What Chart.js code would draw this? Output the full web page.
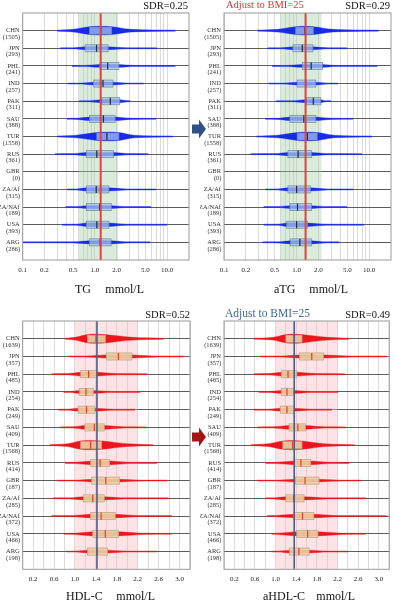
<!DOCTYPE html>
<html lang="en">
<head>
    <meta charset="utf-8" />
    <title>TG and HDL-C by country</title>
    <script src="https://cdn.jsdelivr.net/npm/chart.js"></script>
    <style>
        body { margin: 0; background: #fff; overflow: hidden; }
        .wrap { position: relative; width: 395px; height: 607px; }
        .panel { position: absolute; }
        .arrow { position: absolute; }
    </style>
</head>
<body>
<div class="wrap">
    <div class="panel" style="left:0;top:0;width:198px;height:300px"><canvas id="tgChart"></canvas></div>
    <div class="panel" style="left:200px;top:0;width:195px;height:300px"><canvas id="atgChart"></canvas></div>
    <div class="panel" style="left:0;top:300px;width:198px;height:307px"><canvas id="hdlChart"></canvas></div>
    <div class="panel" style="left:200px;top:300px;width:195px;height:307px"><canvas id="ahdlChart"></canvas></div>
    <svg class="arrow" style="left:190px;top:118px" width="18" height="22" viewBox="0 0 18 22">
        <path d="M2 6.5 H9 V1.5 L16 11 L9 20.5 V15.5 H2 Z" fill="#2e5287" />
    </svg>
    <svg class="arrow" style="left:190px;top:426px" width="18" height="22" viewBox="0 0 18 22">
        <path d="M2 6.5 H9 V1.5 L16 11 L9 20.5 V15.5 H2 Z" fill="#a31616" />
    </svg>
</div>
<script>
    // rows, top to bottom
    const countries = ['CHN', 'JPN', 'PHL', 'IND', 'PAK', 'SAU', 'TUR', 'RUS', 'GBR', 'ZA/Af', 'ZA/NAf', 'USA', 'ARG'];
    const tgCounts = [1505, 293, 241, 257, 311, 388, 1558, 361, 0, 315, 189, 393, 286];
    const hdlCounts = [1639, 357, 485, 254, 249, 409, 1568, 414, 187, 285, 372, 466, 198];

    // x axis grid lines and labelled ticks
    const logGrid = [0.1, 0.2, 0.3, 0.4, 0.5, 0.6, 0.7, 0.8, 0.9, 1, 2, 3, 4, 5, 6, 7, 8, 9, 10];
    const logTickLabels = [0.1, 0.2, 0.5, 1, 2, 5, 10];
    const hdlGrid = [0, 0.2, 0.4, 0.6, 0.8, 1.0, 1.2, 1.4, 1.6, 1.8, 2.0, 2.2, 2.4, 2.6, 2.8, 3.0, 3.2];
    const hdlTickLabels = [0.2, 0.6, 1.0, 1.4, 1.8, 2.2, 2.6, 3.0];

    // TG (mmol/L): tail min, dense start, Q1, median, Q3, dense end, tail max, swarm thickness (rows)
    const tgMin = [0.30, 0.33, 0.48, 0.42, 0.60, 0.41, 0.30, 0.28, null, 0.41, 0.39, 0.35, 0.10];
    const tgLo = [0.50, 0.50, 0.70, 0.60, 0.80, 0.55, 0.55, 0.50, null, 0.55, 0.55, 0.55, 0.50];
    const tgQ1 = [0.84, 0.73, 1.17, 0.96, 1.25, 0.84, 1.06, 0.76, null, 0.76, 0.76, 0.76, 0.84];
    const tgMed = [1.20, 1.05, 1.50, 1.29, 1.63, 1.31, 1.46, 1.06, null, 1.04, 1.16, 1.06, 1.18];
    const tgQ3 = [1.70, 1.52, 2.14, 1.77, 2.20, 1.90, 2.14, 1.80, null, 1.56, 1.68, 1.56, 1.67];
    const tgHi = [3.2, 2.8, 3.5, 3.0, 2.9, 3.2, 3.5, 3.0, null, 2.8, 2.8, 2.8, 2.8];
    const tgMax = [13, 7.2, 13, 4.7, 3.1, 7, 12, 5.5, null, 7, 6, 10, 5.8];
    const tgSize = [0.25, 0.09, 0.09, 0.09, 0.10, 0.11, 0.25, 0.10, 0, 0.10, 0.09, 0.11, 0.10];
    const tgBand = [0.6, 2.1];
    const tgRef = 1.2;

    // aTG (adjusted to BMI=25)
    const atgMin = [0.29, 0.40, 0.46, 0.41, 0.52, 0.37, 0.28, 0.23, null, 0.37, 0.35, 0.35, 0.34];
    const atgLo = [0.55, 0.60, 0.70, 0.65, 0.85, 0.55, 0.55, 0.50, null, 0.55, 0.55, 0.55, 0.55];
    const atgQ1 = [0.97, 0.89, 1.20, 1.02, 1.37, 0.81, 1.02, 0.76, null, 0.76, 0.81, 0.73, 0.82];
    const atgMed = [1.30, 1.20, 1.59, 1.33, 1.70, 1.26, 1.41, 1.05, null, 1.00, 1.03, 1.00, 1.11];
    const atgQ3 = [1.70, 1.68, 2.27, 1.84, 2.15, 1.84, 1.92, 1.60, null, 1.55, 1.60, 1.41, 1.60];
    const atgHi = [3.2, 2.8, 3.5, 2.8, 2.5, 3.0, 3.3, 2.8, null, 2.7, 2.6, 2.6, 2.5];
    const atgMax = [13.5, 5, 13, 3.7, 3.0, 6, 11, 8, null, 6, 5, 8.5, 3.9];
    const atgSize = [0.25, 0.09, 0.09, 0.09, 0.10, 0.11, 0.25, 0.10, 0, 0.10, 0.09, 0.11, 0.10];
    const atgBand = [0.6, 2.2];
    const atgRef = 1.33;

    // HDL-C (mmol/L)
    const hdlMin = [0.81, 0.87, 0.55, 0.78, 0.68, 0.70, 0.51, 0.81, 0.65, 0.58, 0.55, 0.78, 0.84];
    const hdlLo = [1.00, 1.20, 0.85, 0.90, 0.85, 0.95, 0.85, 1.00, 1.00, 0.90, 0.95, 1.00, 1.00];
    const hdlQ1 = [1.24, 1.60, 1.11, 1.08, 1.06, 1.19, 1.11, 1.30, 1.32, 1.16, 1.30, 1.34, 1.24];
    const hdlMed = [1.40, 1.83, 1.26, 1.21, 1.22, 1.37, 1.30, 1.48, 1.59, 1.34, 1.50, 1.58, 1.42];
    const hdlQ3 = [1.58, 2.09, 1.42, 1.35, 1.38, 1.56, 1.51, 1.66, 1.85, 1.56, 1.77, 1.83, 1.62];
    const hdlHi = [2.10, 2.60, 1.80, 1.70, 1.75, 1.95, 2.00, 2.05, 2.30, 1.95, 2.20, 2.30, 2.00];
    const hdlMax = [2.70, 3.08, 2.38, 2.25, 2.15, 2.38, 2.50, 2.57, 2.76, 2.79, 2.85, 2.85, 2.57];
    const hdlSize = [0.26, 0.10, 0.12, 0.09, 0.09, 0.12, 0.26, 0.12, 0.08, 0.10, 0.11, 0.13, 0.09];
    const hdlBand = [1.0, 2.2];
    const hdlRef = 1.42;

    // aHDL-C (adjusted to BMI=25)
    const ahdlMin = [0.58, 0.70, 0.58, 0.67, 0.58, 0.64, 0.52, 0.80, 0.64, 0.80, 0.83, 0.92, 0.92];
    const ahdlLo = [0.95, 1.10, 0.85, 0.85, 0.85, 0.95, 0.85, 1.00, 1.00, 0.95, 1.00, 1.05, 1.05];
    const ahdlQ1 = [1.20, 1.46, 1.11, 1.11, 1.09, 1.26, 1.14, 1.36, 1.38, 1.20, 1.35, 1.41, 1.27];
    const ahdlMed = [1.36, 1.70, 1.24, 1.22, 1.22, 1.43, 1.33, 1.49, 1.57, 1.35, 1.52, 1.62, 1.45];
    const ahdlQ3 = [1.51, 1.93, 1.41, 1.35, 1.36, 1.58, 1.51, 1.68, 1.84, 1.55, 1.74, 1.82, 1.65];
    const ahdlHi = [2.00, 2.50, 1.80, 1.70, 1.70, 1.95, 1.95, 2.05, 2.30, 2.00, 2.20, 2.30, 2.00];
    const ahdlMax = [2.43, 3.15, 2.34, 2.21, 2.09, 2.37, 2.53, 2.43, 2.65, 2.75, 3.15, 2.75, 2.40];
    const ahdlSize = [0.26, 0.10, 0.12, 0.09, 0.09, 0.12, 0.26, 0.12, 0.08, 0.10, 0.11, 0.13, 0.09];
    const ahdlBand = [1.0, 2.2];
    const ahdlRef = 1.36;

    const serif = 'Liberation Serif';

    function tickText(value, labels) {
        const hit = labels.find(v => Math.abs(v - value) < 1e-6);
        return hit === undefined ? '' : hit.toFixed(1);
    }

    // two lines per row (upper / lower edge), the lower one filled back to the upper
    function swarmDatasets(stats, size, color) {
        const sets = [];
        countries.forEach((c, i) => {
            if (stats[0][i] == null) return;
            const xs = stats.map(s => s[i]);
            const hs = [0.028, size[i] * 0.3, size[i] * 0.9, size[i], size[i] * 0.9, size[i] * 0.3, 0.028];
            const common = {
                borderColor: color, backgroundColor: color, borderWidth: 0.4,
                pointRadius: 0, cubicInterpolationMode: 'monotone'
            };
            sets.push({ ...common, data: xs.map((v, k) => ({ x: v, y: i - hs[k] })), fill: false });
            sets.push({ ...common, data: xs.map((v, k) => ({ x: v, y: i + hs[k] })), fill: '-1' });
        });
        return sets;
    }

    function panelPlugin(cfg) {
        return {
            id: 'panel',
            beforeDatasetsDraw(chart) {
                const { ctx, chartArea: a, scales: { x } } = chart;
                const b0 = x.getPixelForValue(cfg.band[0]);
                const b1 = x.getPixelForValue(cfg.band[1]);
                ctx.save();
                ctx.fillStyle = cfg.bandColor;
                ctx.fillRect(b0, a.top, b1 - b0, a.bottom - a.top);
                ctx.restore();
            },
            afterDatasetsDraw(chart) {
                const { ctx, chartArea: a, scales: { x, y } } = chart;
                const q1 = cfg.stats[2], med = cfg.stats[3], q3 = cfg.stats[4];
                ctx.save();
                countries.forEach((c, i) => {
                    if (q1[i] == null) return;
                    const yc = y.getPixelForValue(i);
                    const h = Math.abs(y.getPixelForValue(i + 0.2) - yc);
                    const x1 = x.getPixelForValue(q1[i]);
                    const x2 = x.getPixelForValue(q3[i]);
                    ctx.fillStyle = cfg.boxFill;
                    ctx.fillRect(x1, yc - h, x2 - x1, 2 * h);
                    ctx.strokeStyle = cfg.boxEdge;
                    ctx.lineWidth = 0.8;
                    ctx.strokeRect(x1, yc - h, x2 - x1, 2 * h);
                    const xm = x.getPixelForValue(med[i]);
                    ctx.strokeStyle = cfg.medColor;
                    ctx.lineWidth = 1.2;
                    ctx.beginPath();
                    ctx.moveTo(xm, yc - h);
                    ctx.lineTo(xm, yc + h);
                    ctx.stroke();
                });
                // reference line
                const xr = x.getPixelForValue(cfg.ref);
                ctx.strokeStyle = cfg.refColor;
                ctx.lineWidth = cfg.refWidth;
                ctx.beginPath();
                ctx.moveTo(xr, a.top);
                ctx.lineTo(xr, a.bottom);
                ctx.stroke();
                // frame
                ctx.strokeStyle = '#9a9a9a';
                ctx.lineWidth = 1;
                ctx.strokeRect(a.left, a.top, a.right - a.left, a.bottom - a.top);
                ctx.restore();
            },
            afterDraw(chart) {
                const { ctx, chartArea: a, scales: { y } } = chart;
                ctx.save();
                ctx.fillStyle = '#333';
                ctx.textAlign = 'right';
                ctx.textBaseline = 'middle';
                ctx.font = '6.5px "' + serif + '"';
                countries.forEach((c, i) => {
                    const yc = y.getPixelForValue(i);
                    ctx.fillText(c, a.left - 3, yc);
                    ctx.fillText('(' + cfg.counts[i] + ')', a.left - 2.5, yc + 6.5);
                });
                // header
                ctx.fillStyle = '#111';
                ctx.font = '10.5px "' + serif + '"';
                ctx.fillText(cfg.sdr, cfg.sdrX, cfg.headY);
                if (cfg.note) {
                    ctx.textAlign = 'left';
                    ctx.fillStyle = cfg.noteColor;
                    ctx.font = cfg.noteSize + 'px "' + serif + '"';
                    ctx.fillText(cfg.note, cfg.noteX, cfg.noteY);
                }
                // axis title
                ctx.fillStyle = '#111';
                ctx.font = '12px "' + serif + '"';
                ctx.textAlign = 'left';
                ctx.fillText(cfg.title[0], cfg.titleX[0], cfg.titleY);
                ctx.textAlign = 'right';
                ctx.fillText(cfg.title[1], cfg.titleX[1], cfg.titleY);
                ctx.restore();
            }
        };
    }

    function makePanel(id, cfg) {
        new Chart(document.getElementById(id), {
            type: 'line',
            data: { datasets: swarmDatasets(cfg.stats, cfg.size, cfg.swarm) },
            options: {
                responsive: true,
                maintainAspectRatio: false,
                animation: false,
                events: [],
                layout: { padding: { left: cfg.pad[0], right: cfg.pad[1], top: cfg.pad[2], bottom: 0 } },
                plugins: { legend: { display: false }, tooltip: { enabled: false } },
                scales: {
                    x: {
                        type: cfg.type,
                        min: cfg.min,
                        max: cfg.max,
                        afterBuildTicks: s => { s.ticks = cfg.grid.map(v => ({ value: v })); },
                        afterFit: s => { s.height = cfg.axisH; },
                        border: { display: false },
                        grid: { color: '#d2d2d2', lineWidth: 0.8, drawTicks: false },
                        ticks: {
                            autoSkip: false, maxRotation: 0, padding: 5.8, color: '#222',
                            font: { family: serif, size: 7 },
                            callback: v => tickText(v, cfg.labels)
                        }
                    },
                    y: {
                        type: 'linear',
                        min: -1,
                        max: 13,
                        reverse: true,
                        afterBuildTicks: s => { s.ticks = countries.map((c, i) => ({ value: i })); },
                        afterFit: s => { s.width = 0; },
                        border: { display: false },
                        grid: { color: '#5c5c5c', lineWidth: 1, drawTicks: false },
                        ticks: { display: false }
                    }
                }
            },
            plugins: [panelPlugin(cfg)]
        });
    }

    const tgStyle = {
        type: 'logarithmic', min: 0.1, max: 20, grid: logGrid, labels: logTickLabels,
        swarm: 'rgb(22,42,232)', boxFill: 'rgba(165,195,235,0.75)', boxEdge: 'rgba(110,140,165,0.9)',
        medColor: '#2a2a2a', bandColor: 'rgba(165,205,165,0.4)', refColor: '#e0433a', refWidth: 2,
        counts: tgCounts, axisH: 40, headY: 6.7, titleY: 290
    };
    const hdlStyle = {
        type: 'linear', min: 0, max: 3.2, grid: hdlGrid, labels: hdlTickLabels,
        swarm: 'rgb(234,22,28)', boxFill: 'rgba(236,208,165,0.9)', boxEdge: 'rgba(190,168,138,1)',
        medColor: '#e04028', bandColor: 'rgba(250,185,192,0.4)', refColor: '#4b5d8c', refWidth: 1.6,
        counts: hdlCounts, axisH: 37.7, headY: 15, titleY: 296.5
    };

    makePanel('tgChart', {
        ...tgStyle, stats: [tgMin, tgLo, tgQ1, tgMed, tgQ3, tgHi, tgMax], size: tgSize,
        band: tgBand, ref: tgRef, pad: [22.7, 9, 13],
        sdr: 'SDR=0.25', sdrX: 188, title: ['TG', 'mmol/L'], titleX: [75, 144]
    });
    makePanel('atgChart', {
        ...tgStyle, stats: [atgMin, atgLo, atgQ1, atgMed, atgQ3, atgHi, atgMax], size: atgSize,
        band: atgBand, ref: atgRef, pad: [24, 4, 13],
        sdr: 'SDR=0.29', sdrX: 190, note: 'Adjust to BMI=25', noteX: 26, noteY: 5.5,
        noteColor: '#d33a3a', noteSize: 10.5, title: ['aTG', 'mmol/L'], titleX: [74, 148]
    });
    makePanel('hdlChart', {
        ...hdlStyle, stats: [hdlMin, hdlLo, hdlQ1, hdlMed, hdlQ3, hdlHi, hdlMax], size: hdlSize,
        band: hdlBand, ref: hdlRef, pad: [22.7, 8, 21],
        sdr: 'SDR=0.52', sdrX: 190, title: ['HDL-C', 'mmol/L'], titleX: [66, 155]
    });
    makePanel('ahdlChart', {
        ...hdlStyle, stats: [ahdlMin, ahdlLo, ahdlQ1, ahdlMed, ahdlQ3, ahdlHi, ahdlMax], size: ahdlSize,
        band: ahdlBand, ref: ahdlRef, pad: [24, 3.3, 21],
        sdr: 'SDR=0.49', sdrX: 190, note: 'Adjust to BMI=25', noteX: 25, noteY: 13.5,
        noteColor: '#3f6897', noteSize: 11.5, title: ['aHDL-C', 'mmol/L'], titleX: [63, 155]
    });
</script>
</body>
</html>
